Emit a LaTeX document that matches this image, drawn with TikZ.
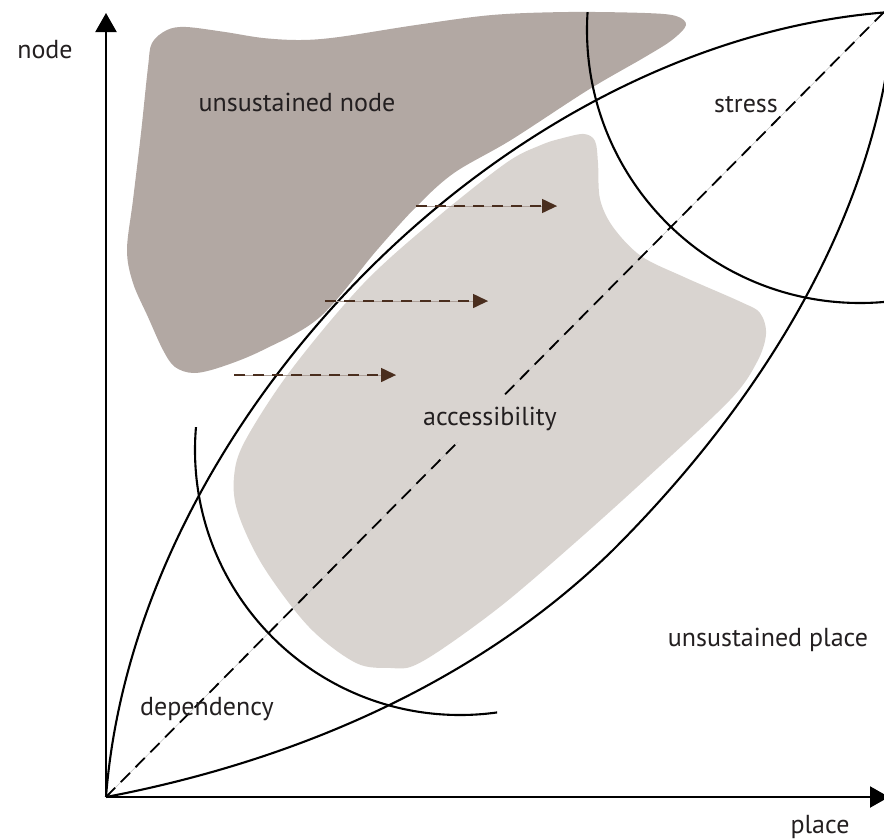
\documentclass[tikz,border=0pt]{standalone}
\usepackage{fontspec}
\setmainfont{PT Sans}
\usetikzlibrary{arrows.meta}
\definecolor{nodefill}{HTML}{B2A8A3}
\definecolor{accfill}{HTML}{D9D4D0}
\definecolor{shiftbrown}{HTML}{4A2E1E}
\definecolor{inkblack}{HTML}{231F20}
\begin{document}
\begin{tikzpicture}[x=1pt,y=-1pt,
  axisline/.style={line width=2.2pt, -{Triangle[length=19pt,width=21pt]}},
  boundary/.style={line width=2.1pt, line join=round},
  diagline/.style={line width=1.8pt, dash pattern=on 13pt off 8pt},
  shiftline/.style={shiftbrown, line width=1.6pt, dash pattern=on 11pt off 8pt,
    -{Triangle[length=15pt,width=14pt]}},
  shiftguide/.style={shiftbrown!45, line width=0.4pt},
  lab/.style={font=\fontsize{26}{30}\selectfont, text=inkblack, anchor=base, inner sep=0pt},
]
\useasboundingbox (0,0) rectangle (884,839);

% key points
\coordinate (O) at (106,797);
\coordinate (ytip) at (106,13);
\coordinate (xtip) at (889,797);
\coordinate (utip) at (890,12);
\coordinate (ltip) at (895,0);
\coordinate (lmid) at (613,550);

% unsustained node region
\fill[nodefill] plot[smooth cycle, tension=0.55] coordinates {
  (167,30) (186,27) (225,32) (263,38) (301,40) (339,37) (416,25) (492,15)
  (568,12) (645,13) (676,16) (686,25) (672,40) (645,57) (588,90) (511,140)
  (454,173) (416,207) (377,250) (320,317) (263,350) (221,367) (194,373)
  (175,367) (163,350) (148,317) (133,283) (127,250) (133,200) (141,133)
  (148,67) (152,43)};

% accessibility region
\fill[accfill] plot[smooth cycle, tension=0.55] coordinates {
  (563,138) (584,134) (595,141) (598,163) (600,199) (613,227) (641,256)
  (684,277) (741,302) (760,313) (766,334) (757,362) (730,400)
  (648,477) (577,541) (506,602) (448,645) (413,666) (391,668) (356,663)
  (309,627) (263,566) (238,513) (234,477) (245,441) (291,370) (363,284)
  (434,220) (506,163) (541,145)};

% diagonal reference line
\draw[black!25, line width=0.5pt] (O) -- (884,12);
\draw[diagline] (O) -- (884,12);

% lens: upper and lower boundaries
\draw[boundary] (O) .. controls (135,420) and (505,40) .. (utip);
\draw[boundary] (O) .. controls (300,760) and (480,680) .. (lmid)
                    .. controls (700,463) and (880,260) .. (ltip);

% stress arc
\coordinate (stressc) at (860,30);
\begin{scope}
  \clip (0,12) rectangle (884,839);
  \draw[boundary] (stressc) circle[radius=273];
\end{scope}

% dependency arc
\coordinate (depc) at (460,450);
\begin{scope}
  \clip (150,427) rectangle (497,760);
  \draw[boundary] (depc) circle[radius=265];
\end{scope}

% shift arrows
\coordinate (a1s) at (416,206); \coordinate (a1e) at (557,206);
\coordinate (a2s) at (325,301); \coordinate (a2e) at (488,301);
\coordinate (a3s) at (234,375); \coordinate (a3e) at (396,375);
\draw[shiftguide] (a1s) -- (a1e);
\draw[shiftguide] (a2s) -- (a2e);
\draw[shiftguide] (a3s) -- (a3e);
\draw[shiftline] (a1s) -- (a1e);
\draw[shiftline] (a2s) -- (a2e);
\draw[shiftline] (a3s) -- (a3e);

% axes
\draw[axisline] (O) -- (ytip);
\draw[axisline] (O) -- (xtip);

% labels
\node[lab] (lnode) at (45,58) {node};
\node[lab] (lplace) at (820,833) {place};
\node[lab] (lunode) at (297,111) {unsustained node};
\node[lab] (lstress) at (746,112) {stress};
\node[lab, fill=accfill, inner xsep=3pt, inner ysep=12pt] (lacc) at (490,425) {accessibility};
\node[lab] (luplace) at (768,646) {unsustained place};
\node[lab] (ldep) at (207,715) {dependency};
\end{tikzpicture}
\end{document}
